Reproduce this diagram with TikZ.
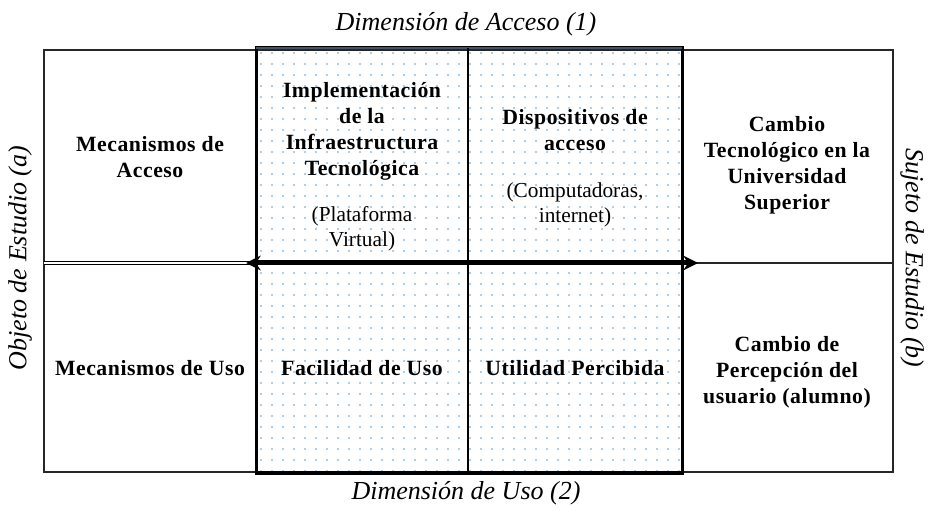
\documentclass[tikz,border=0pt]{standalone}
\usepackage{fontspec}
\setmainfont{Liberation Serif}
\newfontfamily\spfont[LetterSpace=2.5]{Liberation Serif}
\usetikzlibrary{arrows.meta}
\definecolor{dotc}{HTML}{5B9BD5}
\definecolor{topc}{HTML}{44546A}
\begin{document}
\begin{tikzpicture}[x=0.75pt,y=-0.75pt,
  bt/.style={font=\fontsize{16.3}{19.5}\selectfont\spfont\bfseries, align=center, inner sep=0},
  pt/.style={font=\fontsize{16}{19}\selectfont, align=center, inner sep=0},
  side/.style={font=\fontsize{19.5}{22}\selectfont\itshape, inner sep=0},
  frame/.style={draw=black!85, line width=1.5pt},
  thick frame/.style={draw=black, line width=2.25pt},
  divider/.style={draw=black, line width=1.1pt},
  axis/.style={draw=black, line width=3.75pt, {Stealth[length=11pt,width=11pt]}-{Stealth[length=11pt,width=11pt]}}]
\useasboundingbox (0,0) rectangle (929,513);
% dotted fill
\foreach \i in {0,...,38}{
  \foreach \j in {0,...,38}{
    \fill[dotc] (261+\i*11, 53+\j*11) circle (0.9);
  }
}
% outer frame
\draw[frame] (44,50) rectangle (893,472);
% shaded central region
\draw[thick frame] (256,48) rectangle (682,473);
\draw[draw=topc, line width=1.5pt] (256,48) -- (682,48);
\coordinate (mt) at (468,48);
\coordinate (mb) at (468,473);
\draw[divider] (mt) -- (mb);
% horizontal division
\coordinate (hl) at (44,263);
\coordinate (hlm) at (256,263);
\coordinate (hrm) at (682,263);
\coordinate (hr) at (893,263);
\draw[draw=black, double=white, double distance=1.2pt, line width=0.6pt] (hl) -- (hlm);
\draw[draw=black!85, line width=1.3pt] (hrm) -- (hr);
\coordinate (la) at (246,263);
\coordinate (ra) at (698,263);
\draw[axis] (la) -- (ra);
% cell texts
\node[bt] (mA) at (150,157) {Mecanismos de\\Acceso};
\node[bt] (mU) at (150,368) {Mecanismos de Uso};
\node[bt] (imp) at (362,131) {Implementación\\de la\\Infraestructura\\Tecnológica};
\node[pt] (plat) at (362,229) {(Plataforma\\Virtual)};
\node[bt] (disp) at (575,130) {Dispositivos de\\acceso};
\node[pt] (comp) at (575,205) {(Computadoras,\\internet)};
\node[bt] (fac) at (362,368) {Facilidad de Uso};
\node[bt] (util) at (575,368) {Utilidad Percibida};
\node[bt] (ct) at (787,165) {Cambio\\Tecnológico en la\\Universidad\\Superior};
\node[bt] (cp) at (787,372) {Cambio de\\Percepción del\\usuario (alumno)};
% axis labels
\node[side] (da) at (466,24) {Dimensión de Acceso (1)};
\node[side] (du) at (466,493) {Dimensión de Uso (2)};
\node[side, rotate=90] (oe) at (20,258) {Objeto de Estudio (a)};
\node[side, rotate=-90] (se) at (912,258) {Sujeto de Estudio (b)};
\end{tikzpicture}
\end{document}
